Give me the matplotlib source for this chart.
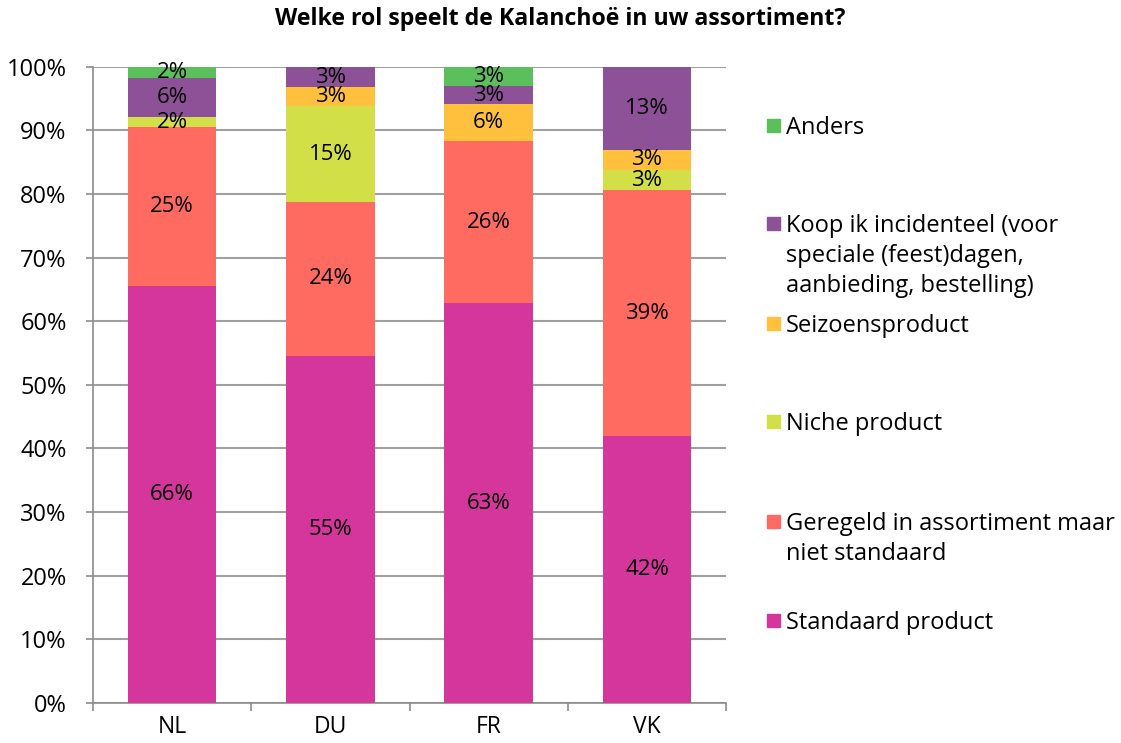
import numpy as np
import matplotlib
matplotlib.use('Agg')
import matplotlib.pyplot as plt
import matplotlib.patches as mpatches

plt.rcParams['font.family'] = ['Open Sans', 'DejaVu Sans']

# data (percent of respondents per country)
countries = ['NL', 'DU', 'FR', 'VK']
series = ['Standaard product',
          'Geregeld in assortiment maar\nniet standaard',
          'Niche product',
          'Seizoensproduct',
          'Koop ik incidenteel (voor\nspeciale (feest)dagen,\naanbieding, bestelling)',
          'Anders']
standaard = [65.5, 54.6, 62.8, 41.9]
geregeld = [25.0, 24.1, 25.6, 38.7]
niche = [1.6, 15.1, 0.0, 3.2]
seizoen = [0.0, 3.0, 5.7, 3.2]
koop = [6.1, 3.2, 2.9, 13.0]
anders = [1.8, 0.0, 3.0, 0.0]
values = [standaard, geregeld, niche, seizoen, koop, anders]
colors = ['#D5369C', '#FF6A61', '#D2DF47', '#FFC13D', '#8C5196', '#5BBF5C']

fig = plt.figure(figsize=(11.21, 7.43), dpi=100)
ax = fig.add_axes([0.083, 0.054, 0.5647, 0.856])

x = np.arange(len(countries))
bottom = np.zeros(len(countries))
for vals, col in zip(values, colors):
    vals = np.array(vals)
    ax.bar(x, vals, 0.56, bottom=bottom, color=col, linewidth=0, zorder=3)
    for xi, v, b in zip(x, vals, bottom):
        if v > 0:
            ax.text(xi, b + v / 2, '%d%%' % round(v), ha='center', va='center',
                    fontsize=16, color='black', zorder=4)
    bottom += vals

ax.set_xlim(-0.5, 3.5)
ax.set_ylim(0, 100)
ax.set_yticks(np.arange(0, 101, 10))
ax.set_yticklabels(['%d%%' % v for v in range(0, 101, 10)], fontsize=17)
ax.set_xticks(x)
ax.set_xticklabels(countries, fontsize=16.5)
ax.set_xticks([-0.5, 0.5, 1.5, 2.5, 3.5], minor=True)
ax.tick_params(axis='x', which='major', length=0, pad=9)
ax.tick_params(axis='x', which='minor', length=6, color='#8C8C8C', width=1.2)
ax.tick_params(axis='y', length=5, color='#8C8C8C', width=1.2, pad=14)
ax.yaxis.grid(True, color='#A0A0A0', linewidth=1.5, zorder=0)
ax.set_axisbelow(True)
for s in ['top', 'right']:
    ax.spines[s].set_visible(False)
for s in ['left', 'bottom']:
    ax.spines[s].set_color('#8C8C8C')
    ax.spines[s].set_linewidth(1.2)

fig.text(0.5, 0.974, 'Welke rol speelt de Kalanchoë in uw assortiment?',
         ha='center', va='center', fontsize=16.7, fontweight='bold')

# legend, top to bottom (reverse of stacking order)
leg_y = [125, 223, 323, 421, 521, 620]
H = 743.0
W = 1121.0
for i, (lab, col) in enumerate(zip(series[::-1], colors[::-1])):
    yc = leg_y[i]
    fig.patches.append(mpatches.Rectangle((767 / W, 1 - (yc + 7) / H), 13 / W, 13 / H,
                                          transform=fig.transFigure, color=col))
    fig.text(786 / W, 1 - (yc - 9) / H, lab, ha='left', va='top',
             fontsize=17, linespacing=1.33)

fig.savefig('out.png', dpi=100)
